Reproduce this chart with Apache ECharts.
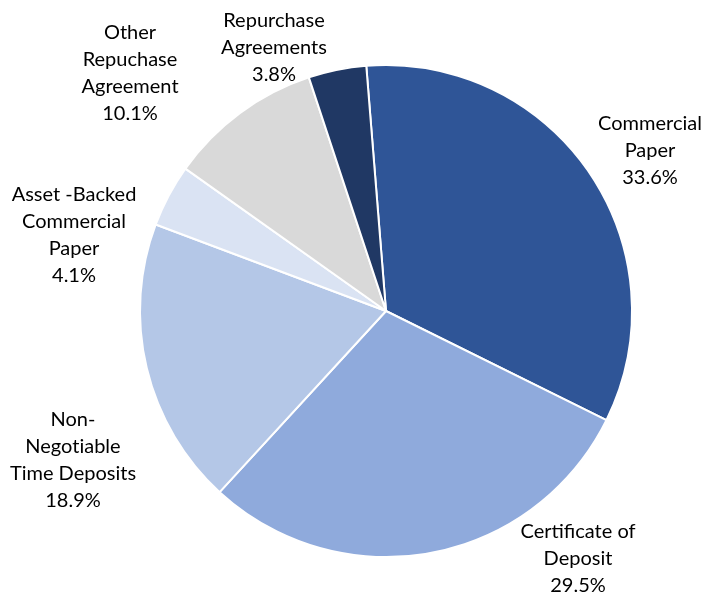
<!DOCTYPE html>
<html>
<head>
<meta charset="utf-8">
<script src="https://cdn.jsdelivr.net/npm/echarts@6/dist/echarts.min.js"></script>
<style>
html,body{margin:0;padding:0;background:#fff;}
#chart{width:707px;height:593px;}
</style>
</head>
<body>
<div id="chart"></div>
<script>
const categories = [
  "Commercial\nPaper",
  "Certificate of\nDeposit",
  "Non-\nNegot\u200Ciable\nTime Deposits",
  "Asset -Backed\nCommercial\nPaper",
  "Other\nRepuchase\nAgreement",
  "Repurchase\nAgreements"
];
const shares = [33.6, 29.5, 18.9, 4.1, 10.1, 3.8];
const sliceColors = ["#2F5597", "#8FAADC", "#B4C7E7", "#DAE3F3", "#D9D9D9", "#203864"];
// label anchor points (pixel centres of each label block)
const labelAnchors = [[650,151],[578,559],[73,460],[74,235],[130,73],[274,48]];

const chart = echarts.init(document.getElementById('chart'), null, {renderer:'canvas'});
chart.setOption({
  animation: false,
  backgroundColor: '#ffffff',
  series: [{
    type: 'pie',
    center: [386, 311],
    radius: 246,
    startAngle: 94.6,
    clockwise: true,
    avoidLabelOverlap: false,
    data: categories.map((c, i) => ({name: c, value: shares[i], itemStyle: {color: sliceColors[i]}})),
    itemStyle: {borderColor: '#ffffff', borderWidth: 2},
    label: {
      show: true,
      position: 'outside',
      formatter: p => p.name + '\n' + p.value.toFixed(1) + '%',
      fontFamily: 'Lato',
      fontSize: 20,
      lineHeight: 27,
      color: '#000000',
      align: 'center'
    },
    labelLine: {show: false},
    labelLayout: p => ({
      x: labelAnchors[p.dataIndex][0],
      y: labelAnchors[p.dataIndex][1],
      align: 'center',
      verticalAlign: 'middle'
    }),
    emphasis: {disabled: true}
  }]
});
</script>
</body>
</html>
